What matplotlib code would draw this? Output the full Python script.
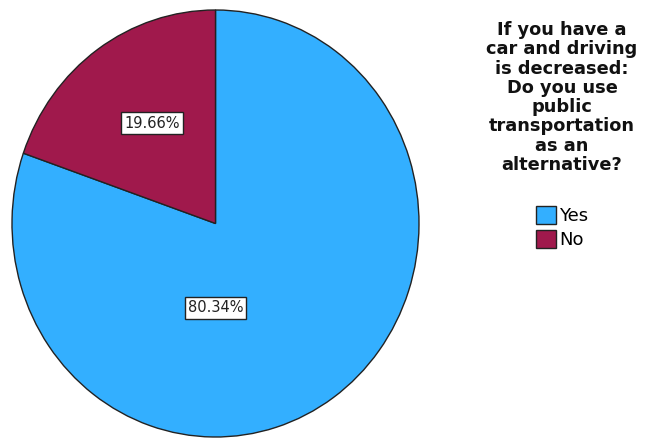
import matplotlib.pyplot as plt

# answers and their shares (percent)
labels = ['Yes', 'No']
shares = [80.34, 19.66]
colors = ['#33AFFF', '#A0194C']
legend_title = ('If you have a\ncar and driving\nis decreased:\nDo you use\npublic\n'
                'transportation\nas an\nalternative?')

W, H = 646, 438
fig = plt.figure(figsize=(W / 100, H / 100), dpi=100)

# pie is slightly taller than wide, so use a free-aspect axes
ax = fig.add_axes([12 / W, 1 / H, 407 / W, 427 / H])
wedges, _ = ax.pie(shares, colors=colors, startangle=90, counterclock=False,
                   wedgeprops=dict(edgecolor='#222222', linewidth=1.0))
ax.set_xlim(-1, 1)
ax.set_ylim(-1, 1)
ax.set_aspect('auto')
ax.axis('off')

# percentage labels in white boxes
label_pos = [(0.0, -0.395), (-0.31, 0.47)]
for (x, y), v in zip(label_pos, shares):
    ax.text(x, y, f'{v:.2f}%', ha='center', va='center', fontsize=10.5,
            color='#222222',
            bbox=dict(boxstyle='square,pad=0.22', facecolor='white',
                      edgecolor='#222222', linewidth=1.0))

# legend title as its own text block
fig.text(562 / W, 1 - 21 / H, legend_title, ha='center', va='top',
         fontsize=12.8, fontweight='bold', linespacing=1.09, color='#111111')

leg = fig.legend(wedges, labels, loc='upper center',
                 bbox_to_anchor=(562 / W, 1 - 197 / H), frameon=False,
                 fontsize=13, handlelength=1.1, handleheight=1.15,
                 handletextpad=0.2, labelspacing=0.25, borderpad=0)
for h in leg.legend_handles:
    h.set_edgecolor('#222222')
    h.set_linewidth(1.0)

fig.savefig('out.png', dpi=100)
